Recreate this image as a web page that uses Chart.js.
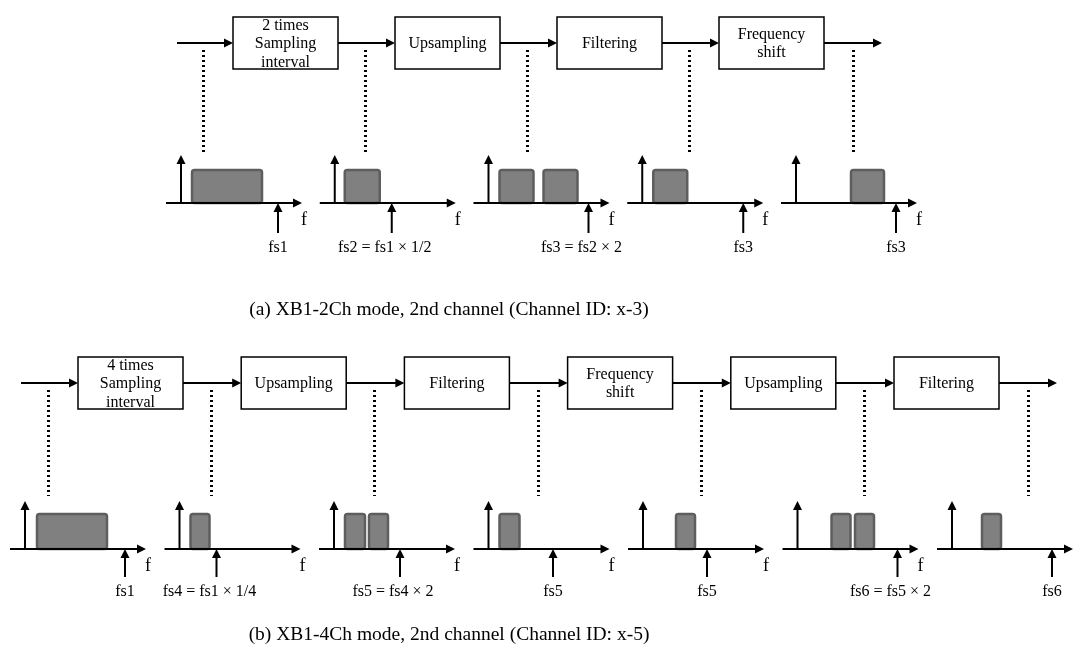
<!DOCTYPE html>
<html>
<head>
<meta charset="utf-8">
<script src="https://cdn.jsdelivr.net/npm/chart.js@4"></script>
<style>
  html, body { margin: 0; padding: 0; background: #fff; }
  #wrap { width: 1073px; height: 664px; }
</style>
</head>
<body>
<div id="wrap"><canvas id="c" width="1073" height="664"></canvas></div>
<script>
// processing stages (a) and (b)
const stagesA = [["2 times", "Sampling", "interval"], ["Upsampling"], ["Filtering"], ["Frequency", "shift"]];
const stagesB = [["4 times", "Sampling", "interval"], ["Upsampling"], ["Filtering"], ["Frequency", "shift"], ["Upsampling"], ["Filtering"]];

// occupied bands of each spectrum [from, to], frequency measured from the origin
const bandsA = [[[11, 81]], [[10, 45]], [[11, 45], [55, 89]], [[11, 45]], [[55, 88]]];
const fsA = [97, 57, 100, 101, 100];
const fsLabelsA = ["fs1", "fs2 = fs1 × 1/2", "fs3 = fs2 × 2", "fs3", "fs3"];

const bandsB = [[[12, 82]], [[11, 30]], [[11, 31], [35, 54]], [[11, 31]], [[33, 52]], [[34, 53], [57.5, 76.5]], [[30, 49]]];
const fsB = [100, 37, 66, 64.5, 64, 100, 100];
const fsLabelsB = ["fs1", "fs4 = fs1 × 1/4", "fs5 = fs4 × 2", "fs5", "fs5", "fs6 = fs5 × 2", "fs6"];

const captions = ["(a) XB1-2Ch mode, 2nd channel (Channel ID: x-3)", "(b) XB1-4Ch mode, 2nd channel (Channel ID: x-5)"];

// layout of the two rows
const rows = [
  { stages: stagesA, bands: bandsA, fs: fsA, fsLabels: fsLabelsA, caption: captions[0],
    lineY: 43, start: 177, box0: 233, boxStep: 162, dotTop: 50, dotBot: 155,
    axisY: 203, org0: 181, orgStep: 153.75, rectH: 33, fsLen: 30, capY: 310 },
  { stages: stagesB, bands: bandsB, fs: fsB, fsLabels: fsLabelsB, caption: captions[1],
    lineY: 383, start: 21, box0: 78, boxStep: 163.2, dotTop: 390, dotBot: 496,
    axisY: 549, org0: 25, orgStep: 154.5, rectH: 35, fsLen: 28, capY: 635 }
];
const BOX_W = 105, BOX_H = 52;
const SERIF = '"Liberation Serif", "Times New Roman", serif';

function arrow(ctx, x1, y1, x2, y2, w) {
  const a = Math.atan2(y2 - y1, x2 - x1);
  const hl = 9, hw = 4.5;
  ctx.lineWidth = w;
  ctx.beginPath();
  ctx.moveTo(x1, y1);
  ctx.lineTo(x2 - Math.cos(a) * hl * 0.8, y2 - Math.sin(a) * hl * 0.8);
  ctx.stroke();
  ctx.beginPath();
  ctx.moveTo(x2, y2);
  ctx.lineTo(x2 - Math.cos(a) * hl - Math.sin(a) * hw, y2 - Math.sin(a) * hl + Math.cos(a) * hw);
  ctx.lineTo(x2 - Math.cos(a) * hl + Math.sin(a) * hw, y2 - Math.sin(a) * hl - Math.cos(a) * hw);
  ctx.closePath();
  ctx.fill();
}

function roundRect(ctx, x, y, w, h, r) {
  ctx.beginPath();
  ctx.moveTo(x + r, y);
  ctx.lineTo(x + w - r, y);
  ctx.quadraticCurveTo(x + w, y, x + w, y + r);
  ctx.lineTo(x + w, y + h - r);
  ctx.quadraticCurveTo(x + w, y + h, x + w - r, y + h);
  ctx.lineTo(x + r, y + h);
  ctx.quadraticCurveTo(x, y + h, x, y + h - r);
  ctx.lineTo(x, y + r);
  ctx.quadraticCurveTo(x, y, x + r, y);
  ctx.closePath();
}

const diagramPlugin = {
  id: "diagram",
  afterDatasetsDraw(chart) {
    const ctx = chart.ctx;
    const sx = chart.scales.x, sy = chart.scales.y;
    const px = v => sx.getPixelForValue(v);
    const py = v => sy.getPixelForValue(v);
    ctx.save();
    ctx.strokeStyle = "#000";
    ctx.fillStyle = "#000";

    rows.forEach(r => {
      const n = r.stages.length;
      const boxX = i => r.box0 + i * r.boxStep;

      // signal chain
      arrow(ctx, px(r.start), py(r.lineY), px(boxX(0)), py(r.lineY), 2);
      for (let i = 0; i < n; i++) {
        const x0 = boxX(i);
        ctx.lineWidth = 1.5;
        ctx.strokeRect(px(x0), py(r.lineY - BOX_H / 2), px(x0 + BOX_W) - px(x0), py(r.lineY + BOX_H / 2) - py(r.lineY - BOX_H / 2));
        const end = i < n - 1 ? boxX(i + 1) : x0 + BOX_W + 58;
        arrow(ctx, px(x0 + BOX_W), py(r.lineY), px(end), py(r.lineY), 2);

        ctx.font = "16px " + SERIF;
        ctx.textAlign = "center";
        ctx.textBaseline = "middle";
        const lines = r.stages[i];
        lines.forEach((t, k) => {
          const yy = r.lineY + (k - (lines.length - 1) / 2) * 18.5;
          ctx.fillText(t, px(x0 + BOX_W / 2), py(yy) + 1);
        });
      }

      // dotted taps
      ctx.lineWidth = 3;
      ctx.setLineDash([2, 3]);
      for (let i = 0; i <= n; i++) {
        const x = i < n ? boxX(i) - 30 : boxX(n - 1) + BOX_W + 29;
        const xx = Math.round(px(x)) + 0.5;
        ctx.beginPath();
        ctx.moveTo(xx, Math.round(py(r.dotTop)));
        ctx.lineTo(xx, Math.round(py(r.dotBot)));
        ctx.stroke();
      }
      ctx.setLineDash([]);

      // spectra
      r.bands.forEach((bands, j) => {
        const o = r.org0 + j * r.orgStep;
        const ay = r.axisY;
        bands.forEach(b => {
          roundRect(ctx, px(o + b[0]), py(ay - r.rectH), px(o + b[1]) - px(o + b[0]), py(ay) - py(ay - r.rectH), 2.5);
          ctx.fillStyle = "#808080";
          ctx.fill();
          ctx.lineWidth = 2.5;
          ctx.strokeStyle = "#5e5e5e";
          ctx.stroke();
        });
        ctx.strokeStyle = "#000";
        ctx.fillStyle = "#000";
        arrow(ctx, px(o - 15), py(ay), px(o + 121), py(ay), 2);
        arrow(ctx, px(o), py(ay), px(o), py(ay - 48), 2);
        const f = o + r.fs[j];
        arrow(ctx, px(f), py(ay + r.fsLen), px(f), py(ay), 2);

        ctx.font = "18px " + SERIF;
        ctx.textAlign = "center";
        ctx.textBaseline = "middle";
        if (px(o + 123) + 4 < chart.chartArea.right) {
          ctx.fillText("f", px(o + 123), py(ay + 17));
        }
        ctx.font = "16px " + SERIF;
        const lab = r.fsLabels[j];
        const nudge = lab.length > 4 ? -7 : 0;
        ctx.fillText(lab, px(f + nudge), py(ay + r.fsLen + 15));
      });

      // caption
      ctx.font = "19.5px " + SERIF;
      ctx.textAlign = "center";
      ctx.textBaseline = "middle";
      ctx.fillText(r.caption, px(449), py(r.capY));
    });
    ctx.restore();
  }
};

new Chart(document.getElementById("c"), {
  type: "scatter",
  data: { datasets: [{ data: [], pointRadius: 0 }] },
  options: {
    responsive: false,
    animation: false,
    layout: { padding: 0 },
    plugins: { legend: { display: false }, tooltip: { enabled: false } },
    scales: {
      x: { type: "linear", min: 0, max: 1073, display: false },
      y: { type: "linear", min: 0, max: 664, reverse: true, display: false }
    }
  },
  plugins: [diagramPlugin]
});
</script>
</body>
</html>
